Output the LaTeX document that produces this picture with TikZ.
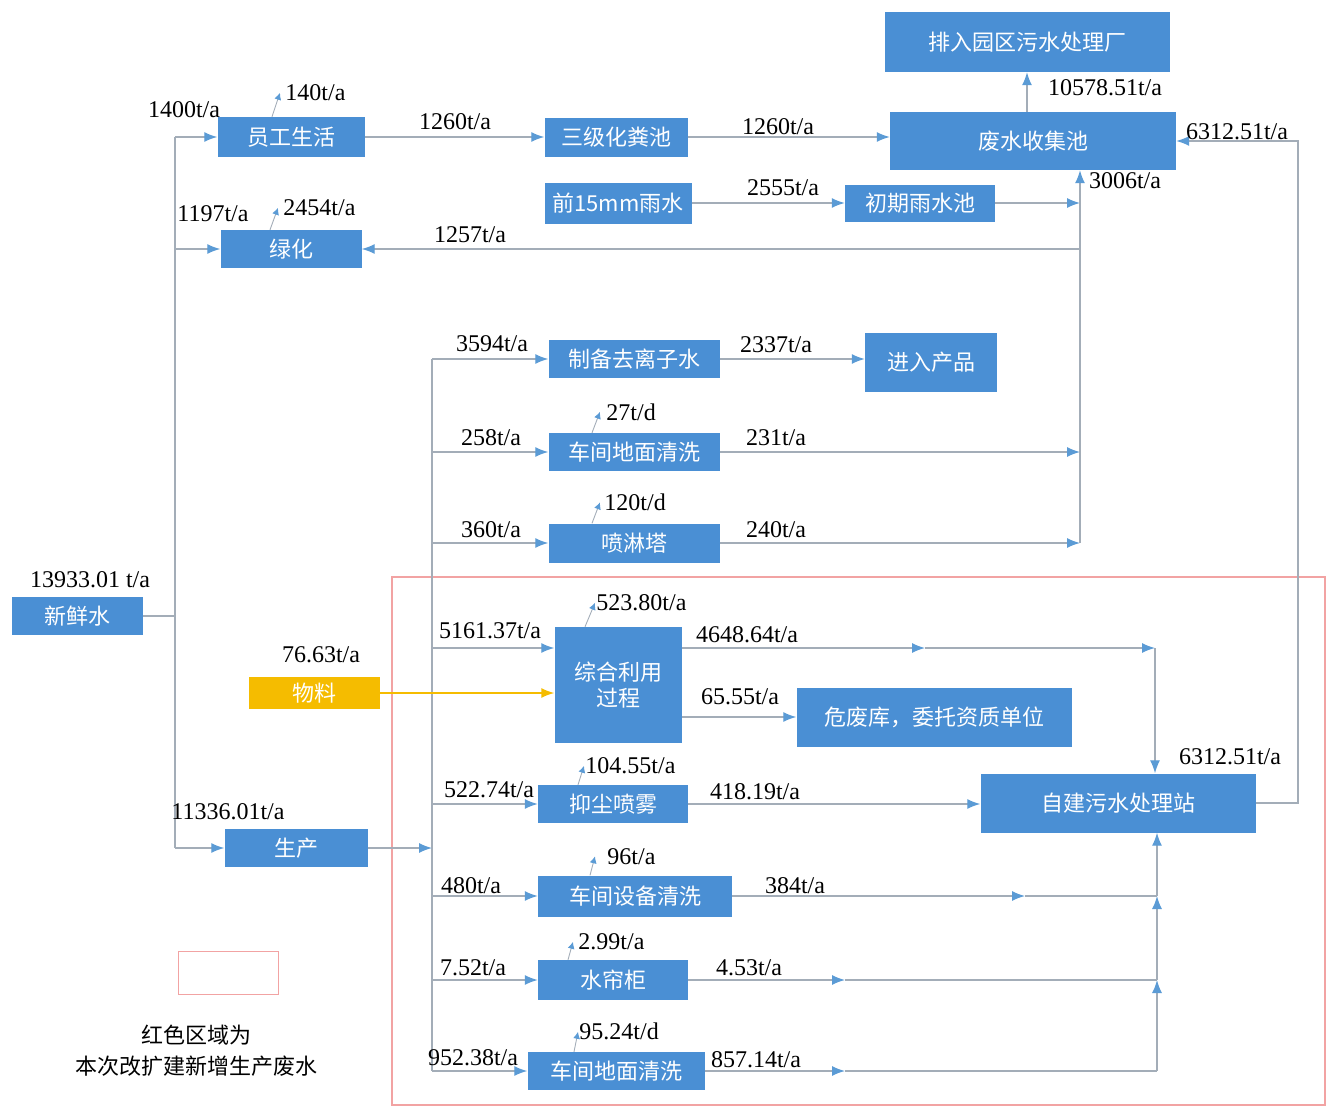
\documentclass[tikz,border=0pt]{standalone}
\usepackage{fontspec}
\setmainfont{Liberation Serif}
\newfontfamily\cjk{Noto Sans CJK SC}
\usetikzlibrary{arrows.meta}
\definecolor{boxblue}{HTML}{4A8FD4}
\definecolor{matyellow}{HTML}{F5BC00}
\definecolor{linegray}{HTML}{A3ADB8}
\definecolor{arrowblue}{HTML}{5B9BD5}
\definecolor{regionred}{HTML}{F2A3A3}
\tikzset{
  box/.style={fill=boxblue, text=white, inner sep=0pt, font=\cjk\fontsize{22}{26}\selectfont, align=center},
  num/.style={inner sep=0pt, font=\fontsize{24}{26}\selectfont},
  line/.style={draw=linegray, line width=1.3pt},
  flow/.style={line, -{Latex[length=13pt,width=10pt,color=arrowblue]}},
  evap/.style={draw=linegray, line width=0.9pt, -{Latex[length=7pt,width=7pt,color=arrowblue]}},
  yflow/.style={draw=matyellow, line width=1.5pt, -{Latex[length=13pt,width=10pt,color=matyellow]}}
}
\begin{document}
\begin{tikzpicture}[x=1pt,y=-1pt]
\useasboundingbox (0,0) rectangle (1328,1108);
% red region
\draw[regionred, line width=1.2pt] (392,577) rectangle (1325,1105);
% boxes
\node[box, minimum width=147pt, minimum height=40pt] (yg) at (291,137) {员工生活};
\node[box, minimum width=141pt, minimum height=38pt] (lh) at (291,249) {绿化};
\node[box, minimum width=143pt, minimum height=39pt] (hf) at (616,137) {三级化粪池};
\node[box, minimum width=147pt, minimum height=41pt] (ys) at (618,203) {前15mm雨水};
\node[box, minimum width=150pt, minimum height=37pt] (cq) at (920,203) {初期雨水池};
\node[box, minimum width=286pt, minimum height=58pt] (fs) at (1033,141) {废水收集池};
\node[box, minimum width=285pt, minimum height=60pt] (pr) at (1027,42) {排入园区污水处理厂};
\node[box, minimum width=171pt, minimum height=38pt] (qlz) at (634,359) {制备去离子水};
\node[box, minimum width=132pt, minimum height=59pt] (jr) at (931,362) {进入产品};
\node[box, minimum width=171pt, minimum height=38pt] (dm1) at (634,452) {车间地面清洗};
\node[box, minimum width=171pt, minimum height=39pt] (pl) at (634,543) {喷淋塔};
\node[box, minimum width=131pt, minimum height=38pt] (xx) at (77,616) {新鲜水};
\node[box, fill=matyellow, minimum width=131pt, minimum height=32pt] (wl) at (314,693) {物料};
\node[box, minimum width=127pt, minimum height=116pt] (zh) at (618,685) {综合利用\\过程};
\node[box, minimum width=275pt, minimum height=59pt] (wf) at (934,717) {危废库，委托资质单位};
\node[box, minimum width=150pt, minimum height=38pt] (yc) at (613,804) {抑尘喷雾};
\node[box, minimum width=275pt, minimum height=59pt] (zj) at (1118,803) {自建污水处理站};
\node[box, minimum width=143pt, minimum height=38pt] (sc) at (296,848) {生产};
\node[box, minimum width=194pt, minimum height=41pt] (sb) at (635,896) {车间设备清洗};
\node[box, minimum width=150pt, minimum height=40pt] (sl) at (613,980) {水帘柜};
\node[box, minimum width=177pt, minimum height=38pt] (dm2) at (616,1071) {车间地面清洗};
% legend
\node[draw=regionred, line width=1pt, minimum width=100pt, minimum height=43pt, inner sep=0pt] (lg) at (228,973) {};
\node[inner sep=0pt, font=\cjk\fontsize{22}{26}\selectfont] (lgt1) at (196,1035) {红色区域为};
\node[inner sep=0pt, font=\cjk\fontsize{22}{26}\selectfont] (lgt2) at (196,1066) {本次改扩建新增生产废水};
% junction coordinates
\coordinate (t1top) at (175,137);
\coordinate (t1bot) at (175,848);
\coordinate (t2top) at (432,359);
\coordinate (t2bot) at (432,1071);
\coordinate (colx) at (1080,543);
\coordinate (rx) at (1298,803);
\coordinate (cx2) at (1155,648);
\coordinate (bx) at (1157,1071);
\coordinate (m4648) at (925,648);
\coordinate (m384) at (1025,896);
\coordinate (m453) at (845,980);
\coordinate (m857) at (845,1071);
% left trunk
\draw[line] (xx.east) -- (xx.east -| t1top);
\draw[line] (t1top) -- (t1bot);
\draw[flow] (t1top) -- (yg.west);
\draw[flow] (lh.west -| t1top) -- (lh.west);
\draw[flow] (t1bot) -- (sc.west);
% top flows
\draw[flow] (yg.east) -- (hf.west);
\draw[flow] (hf.east) -- (hf.east -| fs.west);
\draw[flow] (ys.east) -- (cq.west);
\draw[flow] (cq.east) -- (cq.east -| colx);
\draw[flow] (colx) -- (colx |- fs.south);
\draw[flow] (lh.east -| colx) -- (lh.east);
\draw[flow] (pr.south |- fs.north) -- (pr.south);
% second trunk
\draw[flow] (sc.east) -- (sc.east -| t2top);
\draw[line] (t2top) -- (t2bot);
\draw[flow] (t2top) -- (qlz.west);
\draw[flow] (dm1.west -| t2top) -- (dm1.west);
\draw[flow] (pl.west -| t2top) -- (pl.west);
\draw[flow] ([yshift=37pt]zh.west -| t2top) -- ([yshift=37pt]zh.west);
\draw[flow] (yc.west -| t2top) -- (yc.west);
\draw[flow] (sb.west -| t2top) -- (sb.west);
\draw[flow] (sl.west -| t2top) -- (sl.west);
\draw[flow] (t2bot) -- (dm2.west);
\draw[yflow] (wl.east) -- (wl.east -| zh.west);
% middle outputs
\draw[flow] (qlz.east) -- (qlz.east -| jr.west);
\draw[flow] (dm1.east) -- (dm1.east -| colx);
\draw[flow] (pl.east) -- (colx);
% lower region outputs
\draw[flow] ([yshift=37pt]zh.east) -- (m4648);
\draw[flow] (m4648) -- (cx2);
\draw[flow] (cx2) -- (cx2 |- zj.north);
\draw[flow] ([yshift=-32pt]zh.east) -- ([yshift=-32pt]zh.east -| wf.west);
\draw[flow] (yc.east) -- (yc.east -| zj.west);
\draw[flow] (sb.east) -- (m384);
\draw[line] (m384) -- (sb.east -| bx);
\draw[flow] (sl.east) -- (m453);
\draw[line] (m453) -- (sl.east -| bx);
\draw[flow] (dm2.east) -- (m857);
\draw[line] (m857) -- (bx);
\draw[flow] (bx) -- (sl.east -| bx);
\draw[flow] (sl.east -| bx) -- (sb.east -| bx);
\draw[flow] (sb.east -| bx) -- (bx |- zj.south);
\draw[flow] (zj.east) -- (rx) -- (rx |- fs.east) -- (fs.east);
% evaporation arrows
\draw[evap] ([xshift=-19pt]yg.north) -- ++(8,-24) node[num, right=5pt] (e1) {140t/a};
\draw[evap] ([xshift=-21pt]lh.north) -- ++(8,-22) node[num, right=5pt] (e2) {2454t/a};
\draw[evap] ([xshift=-42pt]dm1.north) -- ++(8,-21) node[num, right=6pt] (e3) {27t/d};
\draw[evap] ([xshift=-42pt]pl.north) -- ++(8,-21) node[num, right=4pt] (e4) {120t/d};
\draw[evap] ([xshift=-33pt]zh.north) -- ++(10,-24) node[num, right=1pt] (e5) {523.80t/a};
\draw[evap] ([xshift=-35pt]yc.north) -- ++(6,-19) node[num, right=1pt] (e6) {104.55t/a};
\draw[evap] ([xshift=-45pt]sb.north) -- ++(5,-19) node[num, right=12pt] (e7) {96t/a};
\draw[evap] ([xshift=-45pt]sl.north) -- ++(5,-18) node[num, right=5pt] (e8) {2.99t/a};
\draw[evap] ([xshift=-42pt]dm2.north) -- ++(4,-20) node[num, right=1pt] (e9) {95.24t/d};
% flow labels
\node[num] (l1) at (184,110) {1400t/a};
\node[num] (l2) at (455,122) {1260t/a};
\node[num] (l3) at (778,127) {1260t/a};
\node[num] (l4) at (1105,88) {10578.51t/a};
\node[num] (l5) at (1237,132) {6312.51t/a};
\node[num] (l6) at (1125,181) {3006t/a};
\node[num] (l7) at (783,188) {2555t/a};
\node[num] (l8) at (213,214) {1197t/a};
\node[num] (l9) at (470,235) {1257t/a};
\node[num] (l10) at (492,344) {3594t/a};
\node[num] (l11) at (776,345) {2337t/a};
\node[num] (l12) at (491,438) {258t/a};
\node[num] (l13) at (776,438) {231t/a};
\node[num] (l14) at (491,530) {360t/a};
\node[num] (l15) at (776,530) {240t/a};
\node[num] (l16) at (90,580) {13933.01 t/a};
\node[num] (l17) at (490,631) {5161.37t/a};
\node[num] (l18) at (747,635) {4648.64t/a};
\node[num] (l19) at (321,655) {76.63t/a};
\node[num] (l20) at (740,697) {65.55t/a};
\node[num] (l21) at (1230,757) {6312.51t/a};
\node[num] (l22) at (489,790) {522.74t/a};
\node[num] (l23) at (755,792) {418.19t/a};
\node[num] (l24) at (228,812) {11336.01t/a};
\node[num] (l25) at (471,886) {480t/a};
\node[num] (l26) at (795,886) {384t/a};
\node[num] (l27) at (473,968) {7.52t/a};
\node[num] (l28) at (749,968) {4.53t/a};
\node[num] (l29) at (473,1058) {952.38t/a};
\node[num] (l30) at (756,1060) {857.14t/a};
\end{tikzpicture}
\end{document}
